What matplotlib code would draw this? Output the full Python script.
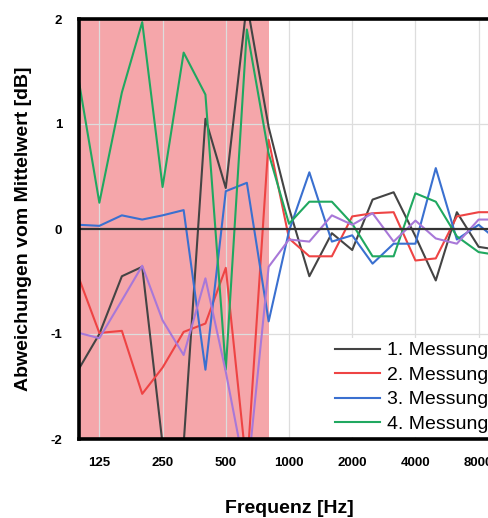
import numpy as np
import matplotlib
matplotlib.use("Agg")
import matplotlib.pyplot as plt
from matplotlib.ticker import NullLocator

plt.rcParams['font.family'] = ['Liberation Sans', 'DejaVu Sans']

# third-octave bands
freqs = [100, 125, 160, 200, 250, 315, 400, 500, 630, 800, 1000, 1250, 1600,
         2000, 2500, 3150, 4000, 5000, 6300, 8000, 10000]

m1 = [-1.33, -1.00, -0.45, -0.36, -2.05, -2.05, 1.05, 0.39, 2.15, 0.97, 0.20,
      -0.45, -0.04, -0.20, 0.28, 0.35, -0.07, -0.49, 0.16, -0.17, -0.20]
m2 = [-0.47, -0.99, -0.97, -1.57, -1.32, -0.98, -0.90, -0.37, -2.30, 0.85, -0.09,
      -0.26, -0.26, 0.12, 0.15, 0.16, -0.30, -0.28, 0.12, 0.16, 0.16]
m3 = [0.04, 0.03, 0.13, 0.09, 0.13, 0.18, -1.34, 0.36, 0.44, -0.88, -0.02,
      0.54, -0.12, -0.06, -0.33, -0.14, -0.14, 0.58, -0.10, 0.04, -0.12]
m4 = [1.40, 0.25, 1.30, 1.97, 0.40, 1.68, 1.28, -1.34, 1.90, 0.72, 0.05,
      0.26, 0.26, 0.05, -0.26, -0.26, 0.34, 0.26, -0.07, -0.22, -0.25]
m5 = [-0.99, -1.04, -0.68, -0.35, -0.87, -1.20, -0.47, -1.36, -2.40, -0.36, -0.10,
      -0.12, 0.13, 0.04, 0.15, -0.12, 0.08, -0.09, -0.14, 0.09, 0.09]

tick_freqs = [125, 250, 500, 1000, 2000, 4000, 8000]
tick_labels = ['125', '250', '500', '1000', '2000', '4000', '8000']
shade_range = (100, 800)

fig = plt.figure(figsize=(4.88, 5.18), dpi=100)
W, H = 488, 518
ax = fig.add_axes([79 / W, (H - 439) / H, 420 / W, 420 / H])

ax.axvspan(*shade_range, color='#f5a6aa', zorder=0, lw=0)

ax.plot(freqs, m1, color='#444444', lw=1.5, label='1. Messung', zorder=3)
ax.plot(freqs, m2, color='#ee4444', lw=1.5, label='2. Messung', zorder=3)
ax.plot(freqs, m3, color='#3a70d0', lw=1.5, label='3. Messung', zorder=3)
ax.plot(freqs, m4, color='#20a860', lw=1.5, label='4. Messung', zorder=3)
ax.plot(freqs, m5, color='#a878d8', lw=1.5, zorder=3)

ax.axhline(0, color='#333333', lw=1.6, zorder=4)

ax.set_xscale('log')
ax.set_xlim(100, 10000)
ax.set_ylim(-2, 2)
ax.set_xticks(tick_freqs)
ax.set_xticklabels(tick_labels)
ax.xaxis.set_minor_locator(NullLocator())
ax.set_yticks([-2, -1, 0, 1, 2])
ax.set_yticklabels(['-2', '-1', '0', '1', '2'])
ax.tick_params(axis='x', length=0, pad=13, labelsize=9.5)
ax.tick_params(axis='y', length=0, pad=12, labelsize=9.5)
for lab in ax.get_xticklabels() + ax.get_yticklabels():
    lab.set_fontweight('bold')

ax.grid(True, color='#dddddd', lw=0.9, zorder=1)
ax.set_axisbelow(False)
for gl in ax.get_xgridlines() + ax.get_ygridlines():
    gl.set_zorder(1)

for s in ['left', 'top', 'bottom', 'right']:
    ax.spines[s].set_linewidth(2.6)
    ax.spines[s].set_color('black')
    ax.spines[s].set_zorder(6)

ax.set_xlabel('Frequenz [Hz]', fontsize=14, fontweight='bold')
ax.set_ylabel('Abweichungen vom Mittelwert [dB]', fontsize=14, fontweight='bold')
ax.xaxis.set_label_coords(0.5, -0.145)
ax.yaxis.set_label_coords(-0.112, 0.5)

leg = ax.legend(loc='upper left', bbox_to_anchor=(0.6, 0.2405), fontsize=14,
                frameon=True, facecolor='white', edgecolor='none', framealpha=1,
                fancybox=False, borderaxespad=0, borderpad=0.2, labelspacing=0.35,
                handlelength=2.3, handletextpad=0.36)
leg.set_zorder(5)

fig.savefig('out.png', dpi=100)
